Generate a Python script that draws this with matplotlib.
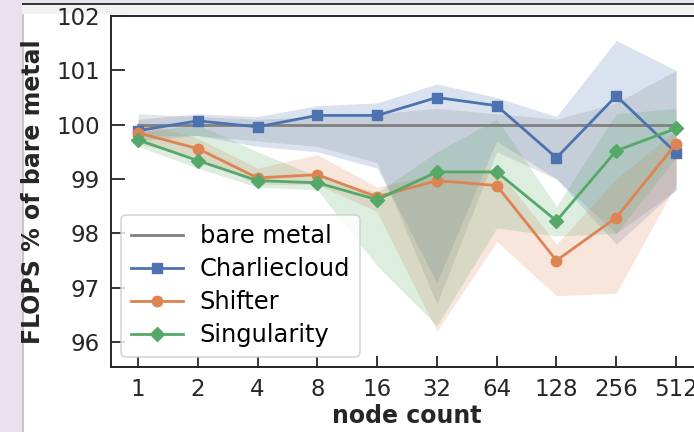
import numpy as np
import matplotlib
matplotlib.use("Agg")
import matplotlib.pyplot as plt
from matplotlib.patches import Rectangle

# node counts on the x axis
nodes = [1, 2, 4, 8, 16, 32, 64, 128, 256, 512]

# bare metal reference and its spread
bare = [100, 100, 100, 100, 100, 100, 100, 100, 100, 100]
bare_lo = [99.8, 99.8, 99.7, 99.6, 99.3, 96.7, 99.5, 99.0, 98.0, 98.8]
bare_hi = [100.2, 100.15, 100.1, 100.15, 100.2, 100.3, 100.2, 100.1, 100.4, 101.0]

# Charliecloud
charlie = [99.89, 100.07, 99.96, 100.17, 100.17, 100.50, 100.35, 99.39, 100.53, 99.48]
charlie_lo = [99.7, 99.8, 99.6, 99.5, 99.2, 97.1, 99.7, 99.0, 97.8, 98.8]
charlie_hi = [100.1, 100.2, 100.15, 100.35, 100.4, 100.75, 100.5, 100.15, 101.55, 101.0]

# Shifter
shifter = [99.85, 99.56, 99.02, 99.08, 98.67, 98.97, 98.88, 97.50, 98.29, 99.65]
shifter_lo = [99.65, 99.4, 98.9, 98.9, 98.4, 96.2, 97.85, 96.85, 96.9, 98.9]
shifter_hi = [100.05, 99.75, 99.2, 99.45, 98.85, 99.1, 99.2, 97.8, 99.0, 99.9]

# Singularity
singularity = [99.72, 99.34, 98.97, 98.93, 98.62, 99.13, 99.13, 98.23, 99.52, 99.93]
sing_lo = [99.6, 99.2, 98.85, 98.8, 97.4, 96.3, 98.1, 97.95, 98.0, 99.4]
sing_hi = [99.85, 100.0, 99.5, 99.05, 98.75, 99.5, 100.1, 98.5, 100.2, 100.3]

yticks = [96, 97, 98, 99, 100, 101, 102]

blue = "#4C72B0"
orange = "#DD8452"
green = "#55A868"
grey = "#808080"
dark = "#262626"

plt.rcParams['font.family'] = ['DejaVu Sans']

fig = plt.figure(figsize=(6.94, 4.32), dpi=100)

# frame bits around the cropped figure
fig.patches.append(Rectangle((0, 0), 22 / 694, 1, transform=fig.transFigure,
                             facecolor="#e7e1f0", edgecolor="none", zorder=-1))
fig.patches.append(Rectangle((22 / 694, 0), 1.5 / 694, 1, transform=fig.transFigure,
                             facecolor="#c8c4d0", edgecolor="none", zorder=-1))
fig.patches.append(Rectangle((0, 1 - 3 / 432), 1, 3 / 432, transform=fig.transFigure,
                             facecolor="#e7e1f0", edgecolor="none", zorder=-1))
fig.patches.append(Rectangle((22 / 694, 1 - 5 / 432), 1, 2 / 432, transform=fig.transFigure,
                             facecolor="#3a3a3a", edgecolor="none", zorder=-1))
fig.patches.append(Rectangle((22 / 694, 1 - 14 / 432), 1, 9 / 432, transform=fig.transFigure,
                             facecolor="#f2f2f2", edgecolor="none", zorder=-1))

ax = fig.add_axes([111 / 694, 65 / 432, 592 / 694, 351 / 432])

ax.fill_between(nodes, bare_lo, bare_hi, color=grey, alpha=0.2, linewidth=0)
ax.fill_between(nodes, charlie_lo, charlie_hi, color=blue, alpha=0.2, linewidth=0)
ax.fill_between(nodes, shifter_lo, shifter_hi, color=orange, alpha=0.2, linewidth=0)
ax.fill_between(nodes, sing_lo, sing_hi, color=green, alpha=0.2, linewidth=0)

ax.plot(nodes, bare, color=grey, lw=2, label="bare metal")
ax.plot(nodes, charlie, color=blue, lw=2, marker="s", ms=7.5, label="Charliecloud")
ax.plot(nodes, shifter, color=orange, lw=2, marker="o", ms=7.5, label="Shifter")
ax.plot(nodes, singularity, color=green, lw=2, marker="D", ms=7.5, label="Singularity")

ax.set_xscale("log", base=2)
ax.set_xlim(2 ** -0.45, 512 * 2 ** 0.45)
ax.set_ylim(95.54, 102)
ax.set_xticks(nodes)
ax.set_xticklabels([str(n) for n in nodes])
ax.minorticks_off()
ax.set_yticks(yticks)

ax.tick_params(axis="both", direction="in", colors=dark, labelsize=16.5,
               width=1.3, pad=8)
ax.tick_params(axis="y", length=10)
ax.tick_params(axis="x", length=8)
for s in ax.spines.values():
    s.set_color(dark)
    s.set_linewidth(1.4)

ax.set_xlabel("node count", fontsize=17, fontweight="bold", color=dark, labelpad=2)
ax.set_ylabel("FLOPS % of bare metal", fontsize=17, fontweight="bold", color=dark, labelpad=8)

leg = ax.legend(loc="lower left", fontsize=17.4, frameon=True, handlelength=2.15,
                handletextpad=0.7, borderaxespad=0.42, labelspacing=0.37)
leg.get_frame().set_edgecolor("#cccccc")
leg.get_frame().set_linewidth(1.2)

fig.savefig("out.png", dpi=100)
